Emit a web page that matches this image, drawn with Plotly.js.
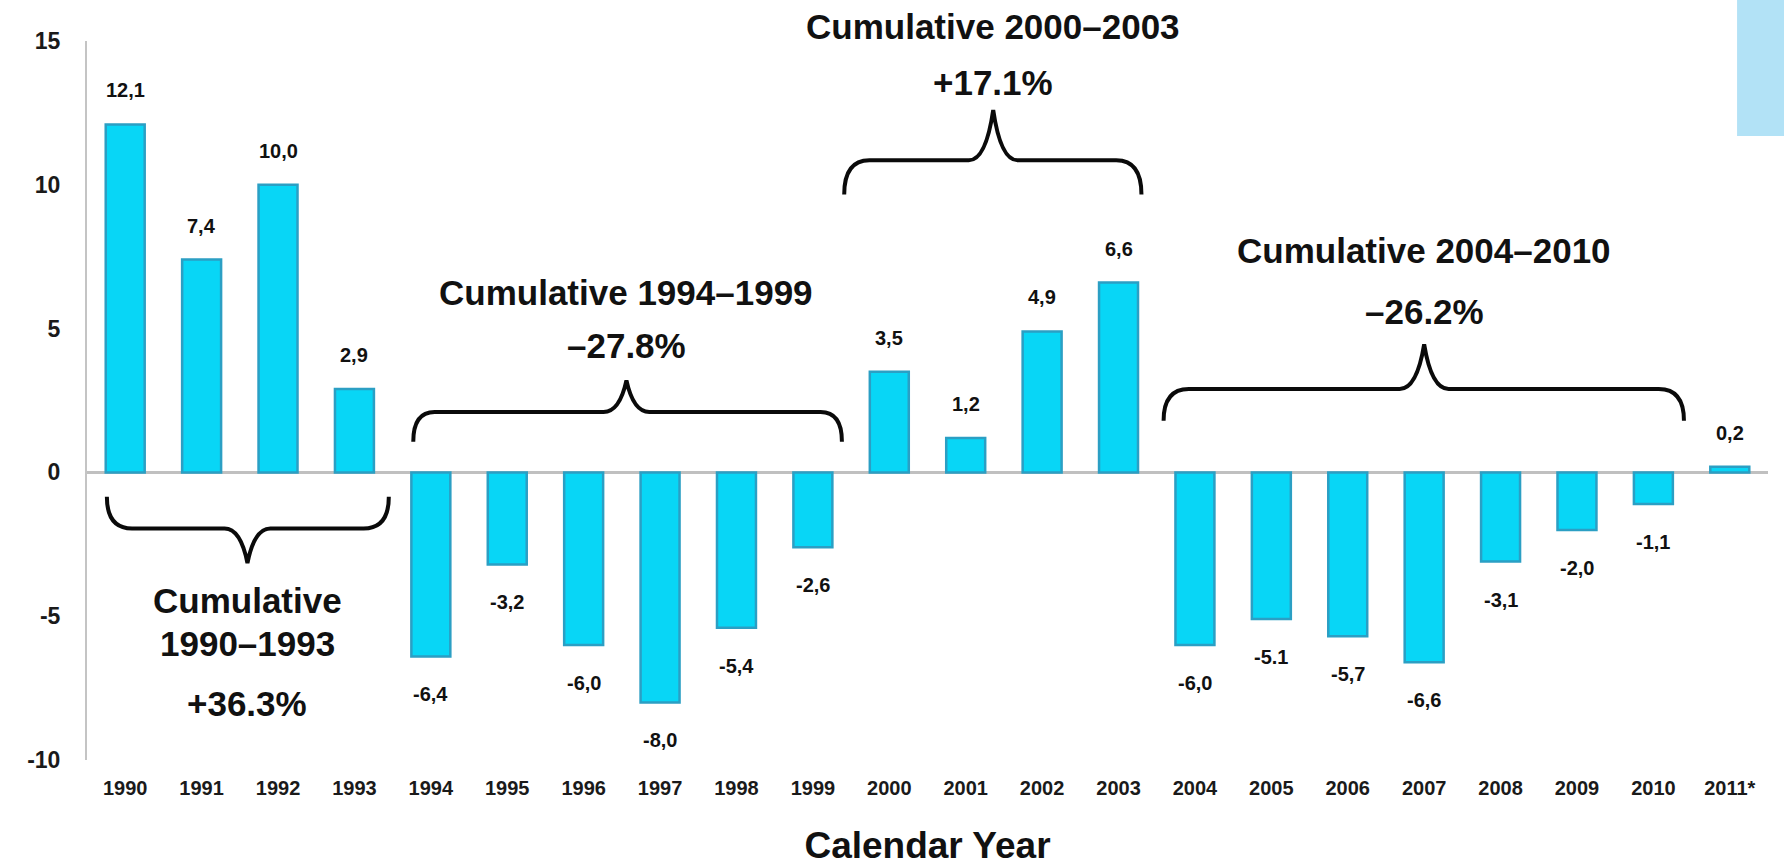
<!DOCTYPE html>
<html>
<head>
<meta charset="utf-8">
<script src="https://cdn.plot.ly/plotly-3.0.1.min.js"></script>
<style>
  html, body { margin: 0; padding: 0; background: #ffffff; }
  #chart { width: 1784px; height: 866px; }
</style>
</head>
<body>
<div id="chart"></div>
<script>
// ---- data ----
var years = ['1990','1991','1992','1993','1994','1995','1996','1997','1998','1999','2000',
             '2001','2002','2003','2004','2005','2006','2007','2008','2009','2010','2011*'];
var values = [12.1, 7.4, 10.0, 2.9, -6.4, -3.2, -6.0, -8.0, -5.4, -2.6, 3.5,
              1.2, 4.9, 6.6, -6.0, -5.1, -5.7, -6.6, -3.1, -2.0, -1.1, 0.2];
var valueLabels = ['12,1','7,4','10,0','2,9','-6,4','-3,2','-6,0','-8,0','-5,4','-2,6','3,5',
                   '1,2','4,9','6,6','-6,0','-5.1','-5,7','-6,6','-3,1','-2,0','-1,1','0,2'];
var groupTitles = ['Cumulative', 'Cumulative 1994\u20131999', 'Cumulative 2000\u20132003', 'Cumulative 2004\u20132010'];
var groupSubtitles = ['1990\u20131993', '', '', ''];
var groupChanges = ['+36.3%', '\u201327.8%', '+17.1%', '\u201326.2%'];
var yTickVals = [-10, -5, 0, 5, 10, 15];

// ---- layout helpers (positions / styles) ----
var FONT = '"Liberation Sans", Arial, Helvetica, sans-serif';
var Y_MAX = 15;
var PX_PER_UNIT = 28.8;
var braceSpec = [
  {x0: -0.24, x1: 3.45, yEnd: -0.85, yFlat: -1.95, yTip: -3.15, r: 0.33, d: 0.30,
   tY: -4.47, sY: -5.96, cY: -8.03, cx: 1.6},
  {x0: 3.77, x1: 9.38, yEnd: 1.07, yFlat: 2.1, yTip: 3.2, r: 0.28, d: 0.30,
   tY: 6.27, cY: 4.41, cx: 6.56},
  {x0: 9.41, x1: 13.3, yEnd: 9.66, yFlat: 10.85, yTip: 12.6, r: 0.33, d: 0.32,
   tY: 15.5, cY: 13.55, cx: 11.36},
  {x0: 13.59, x1: 20.4, yEnd: 1.8, yFlat: 2.9, yTip: 4.45, r: 0.33, d: 0.32,
   tY: 7.7, cY: 5.6, cx: 17.0}
];

function bracePath(b) {
  var xc = b.cx;
  return 'M ' + b.x0 + ',' + b.yEnd +
    ' Q ' + b.x0 + ',' + b.yFlat + ' ' + (b.x0 + b.r) + ',' + b.yFlat +
    ' L ' + (xc - b.d) + ',' + b.yFlat +
    ' Q ' + (xc - b.d * 0.3) + ',' + b.yFlat + ' ' + xc + ',' + b.yTip +
    ' Q ' + (xc + b.d * 0.3) + ',' + b.yFlat + ' ' + (xc + b.d) + ',' + b.yFlat +
    ' L ' + (b.x1 - b.r) + ',' + b.yFlat +
    ' Q ' + b.x1 + ',' + b.yFlat + ' ' + b.x1 + ',' + b.yEnd;
}

var shapes = braceSpec.map(function (b) {
  return {type: 'path', xref: 'x', yref: 'y', path: bracePath(b),
          line: {color: '#0a0a0a', width: 4}, layer: 'above'};
});
// light-blue strip cut off at the top-right corner of the reference
shapes.push({type: 'rect', xref: 'paper', yref: 'paper', x0: 0.9816, x1: 1.03, y0: 0.868, y1: 1.07,
             fillcolor: '#b2e2f6', line: {width: 0}, layer: 'below'});

// place a label in data units; labels above the axis top are pinned to the top and shifted
function dataLabel(x, y, text, size, extra) {
  var a = {x: x, y: Math.min(y, Y_MAX), xref: 'x', yref: 'y', text: text, showarrow: false,
           xanchor: 'center', yanchor: 'middle',
           yshift: y > Y_MAX ? (y - Y_MAX) * PX_PER_UNIT : 0,
           font: {family: FONT, size: size, color: '#111111', weight: 'bold'}};
  if (extra) for (var k in extra) a[k] = extra[k];
  return a;
}

var annotations = [];
for (var i = 0; i < years.length; i++) {
  var pos = values[i] >= 0;
  annotations.push(dataLabel(i, values[i], valueLabels[i], 20, {yshift: pos ? 34 : -38}));
}
braceSpec.forEach(function (b, k) {
  annotations.push(dataLabel(b.cx, b.tY, groupTitles[k], 35));
  if (groupSubtitles[k]) annotations.push(dataLabel(b.cx, b.sY, groupSubtitles[k], 35));
  annotations.push(dataLabel(b.cx, b.cY, groupChanges[k], 35));
});

var trace = {
  type: 'bar',
  x: years,
  y: values,
  width: 0.51,
  marker: {color: '#08d6f6', line: {color: '#2b9fc4', width: 2.5}},
  hoverinfo: 'x+y',
  showlegend: false
};

var layout = {
  width: 1784, height: 866,
  margin: {l: 87, r: 16, t: 41, b: 106},
  paper_bgcolor: '#ffffff', plot_bgcolor: '#ffffff',
  showlegend: false,
  xaxis: {
    type: 'category', range: [-0.5, 21.5], showgrid: false, showline: false, ticks: '',
    zeroline: false,
    tickfont: {family: FONT, size: 20, color: '#1a1a1a', weight: 'bold'},
    ticklabelstandoff: 14,
    title: {text: 'Calendar Year', standoff: 42,
            font: {family: FONT, size: 37, color: '#111', weight: 'bold'}}
  },
  yaxis: {
    range: [-10, 15], tickvals: yTickVals, ticktext: yTickVals.map(String),
    showgrid: false, showline: true, linecolor: '#c4c4c4', linewidth: 2, ticks: '',
    zeroline: true, zerolinecolor: '#c0c0c0', zerolinewidth: 2.5,
    tickfont: {family: FONT, size: 23, color: '#1a1a1a', weight: 'bold'},
    ticklabelstandoff: 20
  },
  shapes: shapes,
  annotations: annotations
};

Plotly.newPlot('chart', [trace], layout, {displayModeBar: false, staticPlot: true});
</script>
</body>
</html>
